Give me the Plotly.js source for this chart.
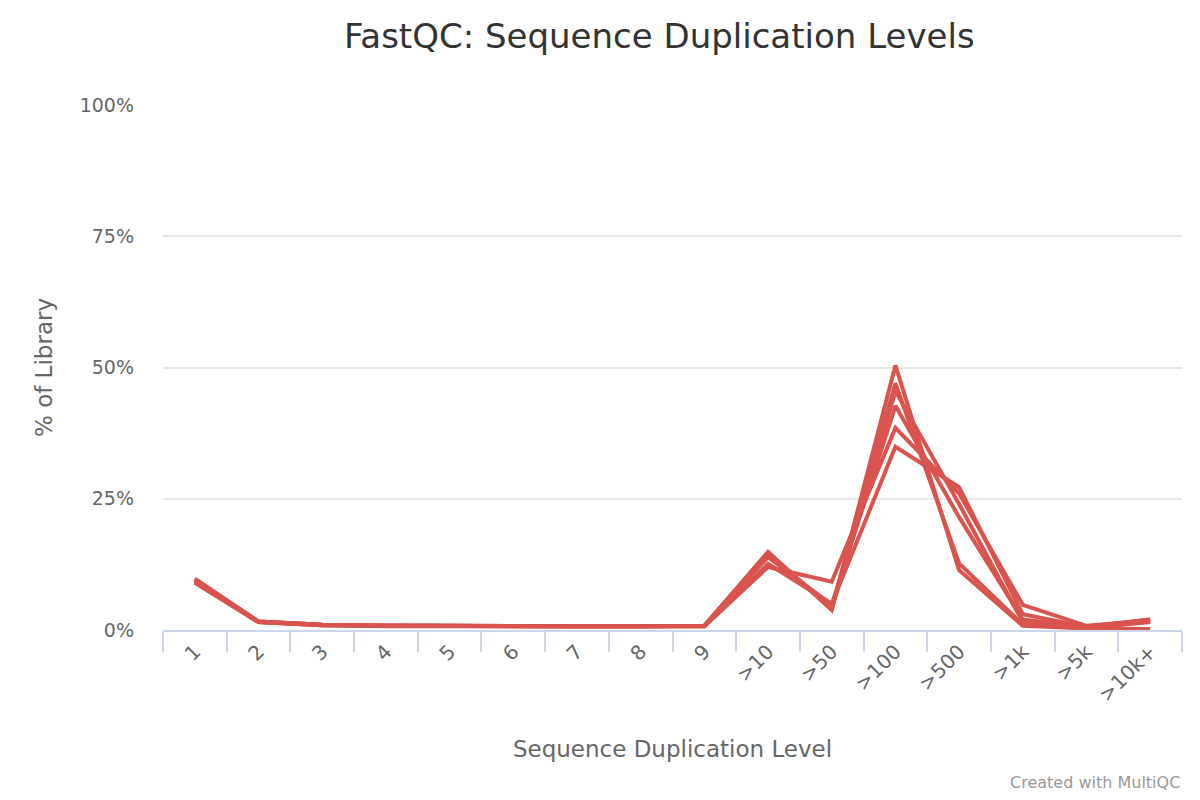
<!DOCTYPE html>
<html>
<head>
<meta charset="utf-8">
<script src="https://cdn.plot.ly/plotly-3.0.1.min.js"></script>
<style>html,body{margin:0;padding:0;background:#fff;}#chart{width:1200px;height:800px;}</style>
</head>
<body>
<div id="chart"></div>
<script>
const categories = ["1","2","3","4","5","6","7","8","9",">10",">50",">100",">500",">1k",">5k",">10k+"];
const sampleA = [9.8, 1.6, 1.0, 0.8, 0.8, 0.7, 0.7, 0.7, 0.8, 14.9, 3.8, 50.4, 11.4, 0.8, 0.3, 0.2];
const sampleB = [9.5, 1.6, 1.0, 0.8, 0.8, 0.7, 0.7, 0.7, 0.8, 14.5, 4.2, 47.0, 12.7, 1.0, 0.4, 1.5];
const sampleC = [9.2, 1.5, 0.9, 0.8, 0.7, 0.7, 0.7, 0.7, 0.7, 13.9, 4.8, 42.7, 21.5, 2.0, 0.5, 2.0];
const sampleD = [9.0, 1.5, 0.9, 0.7, 0.7, 0.7, 0.7, 0.7, 0.7, 12.0, 9.2, 38.5, 26.0, 4.8, 0.8, 1.8];
const sampleE = [9.3, 1.5, 0.9, 0.8, 0.7, 0.7, 0.7, 0.7, 0.7, 12.6, 5.0, 34.9, 27.2, 3.0, 0.6, 2.0];
const sampleF = [9.6, 1.6, 1.0, 0.8, 0.8, 0.7, 0.7, 0.7, 0.8, 14.7, 4.0, 45.5, 24.0, 1.5, 0.4, 1.6];
const series = [sampleA, sampleB, sampleC, sampleD, sampleE, sampleF];
const names = ["Sample A","Sample B","Sample C","Sample D","Sample E","Sample F"];

const traces = series.map((ys, i) => ({
  type: "scatter",
  mode: "lines",
  x: categories,
  y: ys,
  name: names[i],
  line: {color: "#d9534f", width: 4},
  hoverinfo: "x+y+name"
}));

const font = "DejaVu Sans, Verdana, sans-serif";
const layout = {
  width: 1200, height: 800,
  margin: {l: 163, r: 18, t: 105, b: 170},
  paper_bgcolor: "#ffffff", plot_bgcolor: "#ffffff",
  showlegend: false,
  font: {family: font, color: "#666666"},
  title: {text: "FastQC: Sequence Duplication Levels", xref: "paper", x: 0.487, xanchor: "center", y: 0.955, yanchor: "middle",
          font: {family: font, size: 34, color: "#333333"}},
  xaxis: {
    type: "category", categoryorder: "array", categoryarray: categories,
    tickangle: -45, tickfont: {size: 20, color: "#666666"},
    ticks: "outside", ticklen: 20, tickcolor: "#ccd6eb", tickwidth: 2, tickson: "boundaries",
    showline: true, linecolor: "#ccd6eb", linewidth: 2,
    showgrid: false, zeroline: false,
    title: {text: "Sequence Duplication Level", font: {size: 23, color: "#666666"}, standoff: 35},
    range: [-0.5, 15.5]
  },
  yaxis: {
    range: [0, 100], dtick: 25, ticksuffix: "%",
    tickfont: {size: 19, color: "#666666"},
    gridcolor: "#e6e6e6", gridwidth: 1.5, zeroline: false, showline: false,
    ticks: "", ticklabelstandoff: 28,
    title: {text: "% of Library", font: {size: 23, color: "#666666"}, standoff: 20}
  },
  annotations: [{
    text: "Created with MultiQC", xref: "paper", yref: "paper", x: 1, y: -0.291,
    xanchor: "right", yanchor: "middle", showarrow: false,
    font: {family: font, size: 16, color: "#999999"}
  }]
};
Plotly.newPlot("chart", traces, layout, {displayModeBar: false, staticPlot: false});
</script>
</body>
</html>
